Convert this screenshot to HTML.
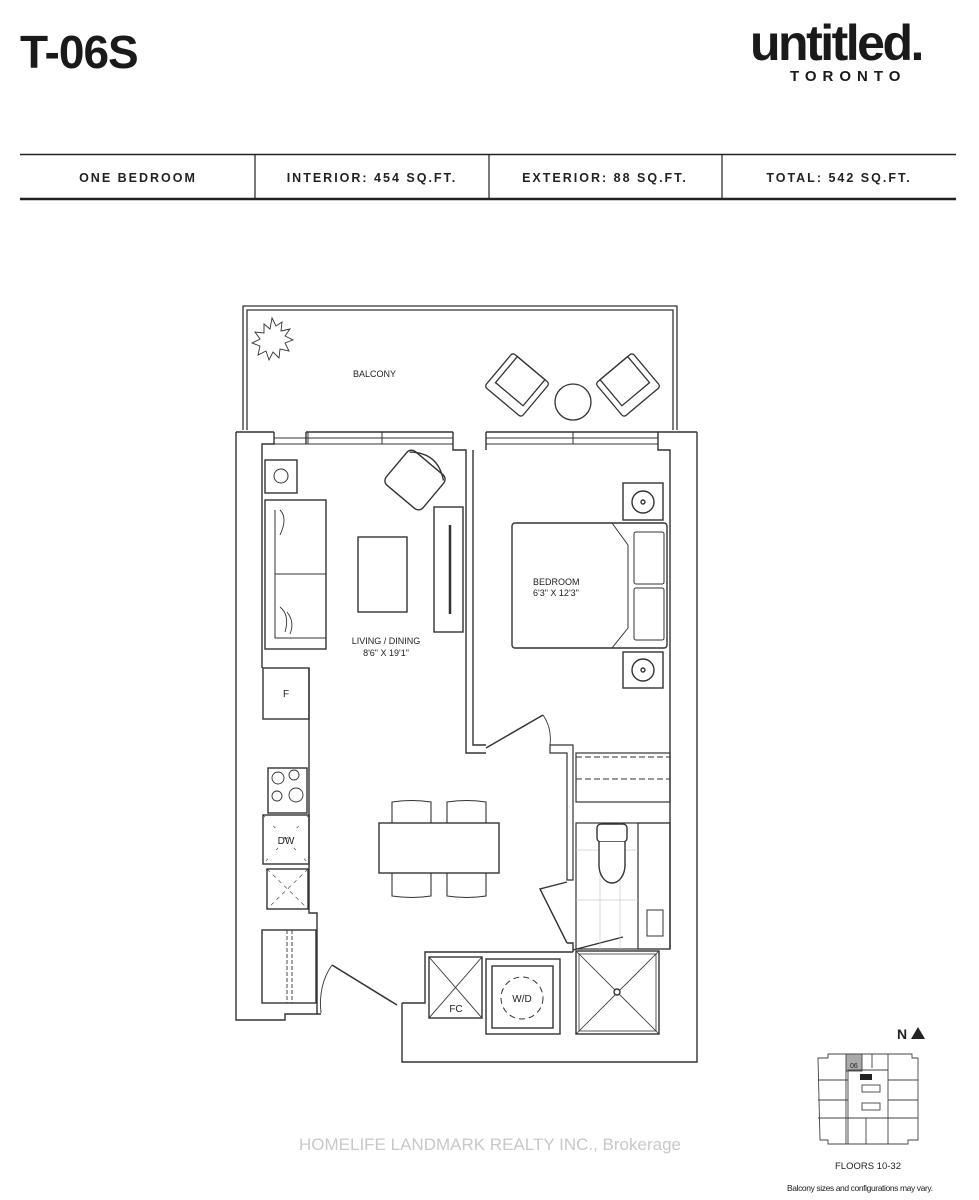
<!DOCTYPE html>
<html><head><meta charset="utf-8"><style>
html,body{margin:0;padding:0;background:#fff;}
body{width:979px;height:1200px;position:relative;overflow:hidden;font-family:"Liberation Sans",sans-serif;}
svg{position:absolute;left:0;top:0;}
</style></head><body>
<svg width="979" height="1200" viewBox="0 0 979 1200" xmlns="http://www.w3.org/2000/svg">
<g font-family="Liberation Sans, sans-serif" fill="#1a1a1a">
<text x="20" y="68" font-size="46" font-weight="bold" letter-spacing="-1">T-06S</text>
<text x="750" y="60" font-size="50" font-weight="bold" letter-spacing="-2.5">untitled.</text>
<text x="790" y="81" font-size="15" font-weight="bold" letter-spacing="6">TORONTO</text>
</g>
<line x1="20" y1="154.5" x2="956" y2="154.5" stroke="#222" stroke-width="1.5"/>
<line x1="20" y1="199" x2="956" y2="199" stroke="#222" stroke-width="2.5"/>
<g stroke="#222" stroke-width="1.2"><line x1="255" y1="155" x2="255" y2="198"/><line x1="489" y1="155" x2="489" y2="198"/><line x1="722" y1="155" x2="722" y2="198"/></g>
<g font-family="Liberation Sans, sans-serif" font-size="12.5" font-weight="bold" fill="#222" letter-spacing="2" text-anchor="middle">
<text x="138" y="182">ONE BEDROOM</text>
<text x="372" y="182">INTERIOR: 454 SQ.FT.</text>
<text x="605" y="182">EXTERIOR: 88 SQ.FT.</text>
<text x="839" y="182">TOTAL: 542 SQ.FT.</text>
</g>

<g fill="none" stroke="#333" stroke-width="1.3">
<path d="M243 430 V306 H677 V430"/>
<path d="M247 430 V310 H673 V430"/>
<g stroke-width="0.9"><path d="M272 318 l4 8 6-4 -1 9 9-2 -5 7 8 4 -8 3 4 8 -9-2 -1 9 -6-6 -4 8 -3-9 -8 4 2-9 -8-3 8-4 -5-7 9 1 0-9 6 5z"/></g>
<g transform="translate(517,385) rotate(40)"><rect x="-24" y="-22" width="48" height="44" rx="3"/><rect x="-18" y="-22" width="36" height="34"/></g>
<circle cx="573" cy="402" r="18"/>
<g transform="translate(628,385) rotate(-40)"><rect x="-24" y="-22" width="48" height="44" rx="3"/><rect x="-18" y="-22" width="36" height="34"/></g>
</g>
<text x="353" y="377" font-family="Liberation Sans, sans-serif" font-size="9" fill="#222">BALCONY</text>

<g fill="none" stroke="#333" stroke-width="1.4">
<path d="M236 432 V1020 H285 V1014 H321"/>
<path d="M262 452 V668"/>
<path d="M236 432 H274 M306 432 H453 M486 432 H658 M658 432 H697"/>
<path d="M274 432 V444 H262 V452 M306 432 V444"/>
<path d="M453 432 V450 H466 V753 H486 M473 450 V745 H486 M486 450 V432"/>
<path d="M658 432 V450 H670 V949 M697 432 V1062 H402 V1003 M402 1003 H425 V952 H573"/>
<path d="M550 745 H573 V880 H567 V753 H550 Z" stroke-width="1.2"/>
<path d="M567 943 H573 V952"/>
<path d="M274 438 H453 M274 444 H453 M486 438 H658 M486 444 H658" stroke-width="1"/>
<path d="M308 432 V444 M382 432 V444 M573 432 V444" stroke-width="1"/>
<rect x="265" y="460" width="32" height="33"/>
<circle cx="281" cy="476" r="7" stroke-width="1"/>
<rect x="265" y="500" width="61" height="149"/>
<path d="M275 510 V638 H326 M275 574 H326" stroke-width="1"/>
<path d="M280 510 q8 8 0 25 M280 607 q10 8 5 25 M287 612 q8 10 3 22" stroke-width="0.9"/>
<rect x="358" y="537" width="49" height="75"/>
<rect x="434" y="507" width="29" height="125"/>
<path d="M450 525 V614" stroke-width="2.5"/>
<g transform="translate(415,480) rotate(40)"><rect x="-24" y="-22" width="48" height="44" rx="6"/><path d="M-22 -18 q22 -18 44 0" /></g>
<rect x="623" y="483" width="40" height="37"/><circle cx="643" cy="502" r="11"/><circle cx="643" cy="502" r="2"/>
<rect x="623" y="652" width="40" height="36"/><circle cx="643" cy="670" r="11"/><circle cx="643" cy="670" r="2"/>
<rect x="512" y="523" width="155" height="125" rx="3"/>
<path d="M612 523 l16 22 V628 l-16 20" stroke-width="1"/>
<rect x="634" y="532" width="30" height="52" rx="2" stroke-width="1"/>
<rect x="634" y="588" width="30" height="52" rx="2" stroke-width="1"/>
<path d="M486 748 L543 715" stroke-width="1.5"/>
<path d="M543 715 Q552 728 550 745" stroke-width="0.9"/>
<rect x="576" y="753" width="94" height="49" stroke-width="1.2"/>
<path d="M576 757 H670 M576 779 H670" stroke-dasharray="6 3" stroke-width="1"/>
<path d="M309 668 V913 H317 V1014" />
<rect x="263" y="668" width="46" height="51"/>
<rect x="268" y="768" width="39" height="45"/>
<circle cx="278" cy="778" r="6" stroke-width="0.9"/><circle cx="294" cy="775" r="5" stroke-width="0.9"/><circle cx="277" cy="796" r="5" stroke-width="0.9"/><circle cx="296" cy="795" r="7" stroke-width="0.9"/>
<rect x="263" y="815" width="46" height="49"/><path d="M263 815 L309 864 M309 815 L263 864" stroke-width="0.6" stroke-dasharray="3 12"/>
<rect x="267" y="869" width="41" height="40"/><path d="M267 869 L308 909 M308 869 L267 909" stroke-width="0.6" stroke-dasharray="4 4"/>
<rect x="262" y="930" width="54" height="73"/>
<path d="M287 930 V1003 M292 930 V1003" stroke-dasharray="4 2" stroke-width="0.9"/>
<path d="M397 1005 L332 965" stroke-width="1.6"/>
<path d="M332 965 Q318 985 321 1013" stroke-width="0.9"/>
<rect x="379" y="823" width="120" height="50"/>
<path d="M392 823 V802 q20-3 39 0 V823 M447 823 V802 q20-3 39 0 V823 M392 873 V896 q20 3 39 0 V873 M447 873 V896 q20 3 39 0 V873" stroke-width="1.1"/>
<path d="M567 882 L540 889 L567 943" stroke-width="1.4"/>
<path d="M573 950 L623 937" stroke-width="1.4"/>
<rect x="576" y="823" width="94" height="126" stroke-width="1.2"/>
<rect x="638" y="823" width="32" height="126" stroke-width="1.2"/>
<rect x="647" y="910" width="16" height="26" stroke-width="1"/>
<path d="M576 850 H638 M576 900 H638 M600 823 V949 M620 823 V949" stroke="#ccc" stroke-width="0.7"/>
<rect x="597" y="824" width="30" height="18" rx="4" fill="#fff"/>
<path d="M599 842 V865 a13 18 0 0 0 26 0 V842" fill="#fff"/>
<rect x="429" y="957" width="53" height="61"/><path d="M429 957 L482 1018 M482 957 L429 1018" stroke-width="0.9"/>
<rect x="486" y="959" width="74" height="75"/><rect x="492" y="966" width="61" height="62"/>
<circle cx="522" cy="998" r="21" stroke-dasharray="6 4" stroke-width="1"/>
<rect x="576" y="951" width="83" height="83"/><rect x="579" y="954" width="77" height="77" stroke-width="0.8"/>
<path d="M576 951 L659 1034 M659 951 L576 1034" stroke-width="0.8"/>
<circle cx="617" cy="992" r="3" fill="#fff"/>
</g>
<g font-family="Liberation Sans, sans-serif" font-size="9" fill="#222">
<text x="386" y="644" text-anchor="middle">LIVING / DINING</text>
<text x="386" y="656" text-anchor="middle">8'6" X 19'1"</text>
<text x="533" y="585">BEDROOM</text>
<text x="533" y="596">6'3" X 12'3"</text>
<text x="286" y="697" text-anchor="middle" font-size="10">F</text>
<text x="286" y="844" text-anchor="middle" font-size="10">DW</text>
<text x="456" y="1012" text-anchor="middle" font-size="10">FC</text>
<text x="522" y="1002" text-anchor="middle" font-size="10">W/D</text>
</g>

<g font-family="Liberation Sans, sans-serif" fill="#222">
<text x="897" y="1039" font-size="14" font-weight="bold">N</text>
<polygon points="911,1039 918,1027 925,1039" fill="#222"/>
</g>
<g fill="none" stroke="#444" stroke-width="0.9">
<path d="M818 1058 H828 V1054 H912 V1058 H918 V1140 H908 V1144 H828 V1140 H820 Z"/>
<rect x="846" y="1054" width="16" height="17" fill="#aaa"/>
<path d="M818 1080 H848 M818 1100 H848 M818 1118 H848 M888 1080 H918 M888 1100 H918 M888 1118 H918 M846 1071 V1144 M888 1054 V1144 M872 1054 V1068 M848 1118 V1144 M866 1118 V1144 M848 1070 H888 V1118 H848 Z"/>
<rect x="862" y="1085" width="18" height="7" /><rect x="862" y="1103" width="18" height="7"/>
</g>
<rect x="860" y="1074" width="12" height="6" fill="#222"/>
<text x="850" y="1068" font-family="Liberation Sans, sans-serif" font-size="7" fill="#222">06</text>
<g font-family="Liberation Sans, sans-serif" fill="#222">
<text x="835" y="1169" font-size="9.5">FLOORS 10-32</text>
<text x="787" y="1191" font-size="8.5" letter-spacing="-0.4">Balcony sizes and configurations may vary.</text>
</g>
<text x="490" y="1150" text-anchor="middle" font-family="Liberation Sans, sans-serif" font-size="17" fill="#c8c8c8">HOMELIFE LANDMARK REALTY INC., Brokerage</text>
</svg>
</body></html>
